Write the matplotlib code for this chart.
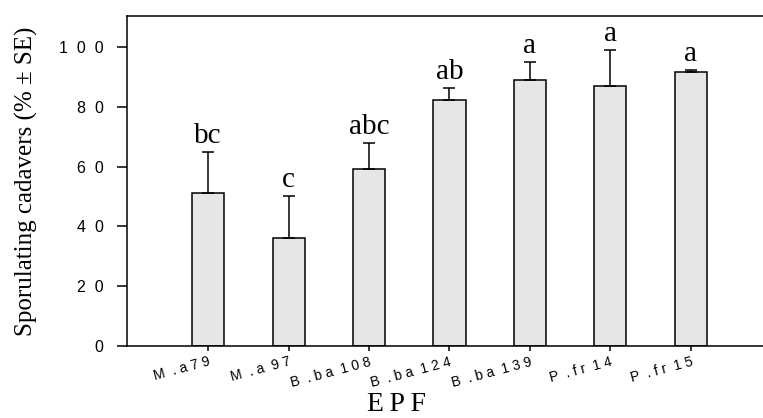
import numpy as np
import matplotlib.pyplot as plt

# isolates (EPF) and sporulation data
isolates = ["M.a79", "M.a 97", "B.ba 108", "B.ba 124", "B.ba 139", "P.fr 14", "P.fr 15"]
tick_labels = ["M .a79", "M .a 97", "B .ba 108", "B .ba 124", "B .ba 139", "P .fr 14", "P .fr 15"]
mean_pct = [51.1, 36.2, 59.2, 82.3, 89.1, 86.9, 91.6]
se_pct = [13.8, 13.9, 8.8, 4.0, 6.1, 12.2, 0.8]
groups = ["bc", "c", "abc", "ab", "a", "a", "a"]
yticks = [0, 20, 40, 60, 80, 100]


def spaced(s):
    # wide letter spacing like the scanned figure
    return "  ".join(" ".join(w) for w in s.split(" "))


fig = plt.figure(figsize=(7.63, 4.18), dpi=100)
ax = fig.add_axes([127 / 763, 72.3 / 418, 636 / 763, 329.7 / 418])

x = np.arange(len(isolates))
ax.bar(x, mean_pct, width=0.4, color="#e6e6e6", edgecolor="black", linewidth=1.1, zorder=2)
ax.errorbar(x, mean_pct, yerr=[np.zeros(len(se_pct)), se_pct], fmt="none",
            ecolor="black", elinewidth=1.1, capsize=4.5, capthick=1.1, zorder=3)

for xi, m, s, g in zip(x, mean_pct, se_pct, groups):
    ax.annotate(g, (xi, m + s), xytext=(0, 6.5), textcoords="offset points",
                ha="center", va="baseline", fontsize=21, family="Liberation Serif")

ax.set_xlim(-1.01, 6.9)
ax.set_ylim(0, 110.5)
ax.set_yticks(yticks)
ax.set_yticklabels(["  ".join(str(v)) for v in yticks], family="Liberation Sans", fontsize=11.5)
ax.set_xticks(x)
ax.set_xticklabels([spaced(t) for t in tick_labels], family="Liberation Sans",
                   fontsize=10, rotation=15, ha="right", va="top", rotation_mode="anchor")

ax.tick_params(axis="y", direction="out", length=7, width=1.1, pad=10)
ax.tick_params(axis="x", direction="out", length=3.5, width=1.1, pad=3)

for side in ["left", "bottom", "top"]:
    ax.spines[side].set_linewidth(1.1)
ax.spines["right"].set_visible(False)

ax.set_ylabel("Sporulating cadavers (% \u00b1 SE)", family="Liberation Serif", fontsize=18)
ax.yaxis.set_label_coords(-0.14, 0.5)
ax.set_xlabel("E\u2009P\u2009F", family="Liberation Serif", fontsize=20)
ax.xaxis.label.set_va("baseline")
ax.xaxis.set_label_coords(0.4245, -0.198)

fig.savefig("out.png", dpi=100)
